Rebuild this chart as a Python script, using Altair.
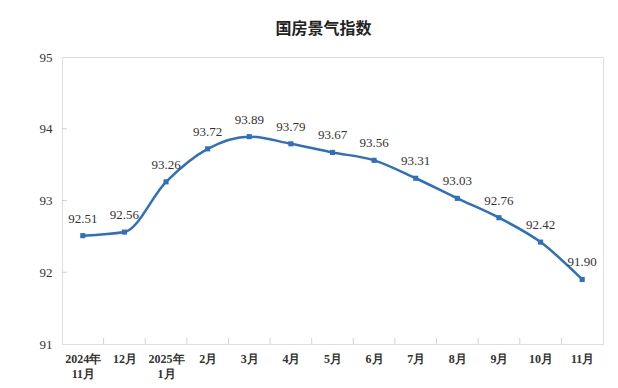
import altair as alt
import pandas as pd

labels = ["2024年|11月", "12月", "2025年|1月", "2月", "3月", "4月", "5月",
          "6月", "7月", "8月", "9月", "10月", "11月"]
values = [92.51, 92.56, 93.26, 93.72, 93.89, 93.79, 93.67,
          93.56, 93.31, 93.03, 92.76, 92.42, 91.90]
y_ticks = [91, 92, 93, 94, 95]

df = pd.DataFrame({"i": list(range(len(labels))), "v": values,
                   "t": [f"{v:.2f}" for v in values]})
bounds = pd.DataFrame({"b": [k + 0.5 for k in range(len(labels) - 1)]})
yt = pd.DataFrame({"y": y_ticks[1:-1]})

label_arr = "[" + ",".join(f"'{l}'" for l in labels) + "]"
xscale = alt.Scale(domain=[-0.5, len(labels) - 0.5], nice=False, zero=False)
yscale = alt.Scale(domain=[91, 95], nice=False, zero=False)

serif = "Liberation Serif"
color = "#2E6FC0"

x_enc = alt.X("i:Q", scale=xscale, title=None,
              axis=alt.Axis(values=list(range(len(labels))),
                            labelExpr=f"split({label_arr}[datum.value], '|')",
                            ticks=False, domain=False, grid=False,
                            labelFont=serif, labelFontSize=12, labelFontWeight="bold",
                            labelColor="#333333", labelPadding=9, labelLineHeight=15,
                            labelBaseline="top"))
y_enc = alt.Y("v:Q", scale=yscale, title=None,
              axis=alt.Axis(values=y_ticks, format="d", ticks=False, domain=False,
                            grid=False, labelFont=serif, labelFontSize=13,
                            labelColor="#333333", labelPadding=10))

base = alt.Chart(df)
line = base.mark_line(color=color, strokeWidth=2.5, interpolate="monotone").encode(x=x_enc, y=y_enc)
pts = base.mark_square(color=color, size=26, opacity=1).encode(x="i:Q", y="v:Q")
txt = base.mark_text(font=serif, fontSize=13, color="#333333", dy=-17).encode(
    x="i:Q", y="v:Q", text="t:N")

xt = alt.Chart(bounds).mark_tick(color="#bfbfbf", size=6, thickness=1, orient="vertical",
                                 yOffset=-3).encode(
    x=alt.X("b:Q", scale=xscale), y=alt.datum(91, scale=yscale))
ytk = alt.Chart(yt).mark_tick(color="#bfbfbf", size=5, thickness=1, orient="horizontal",
                              xOffset=2.5).encode(
    y=alt.Y("y:Q", scale=yscale), x=alt.datum(-0.5, scale=xscale))

chart = alt.layer(line, xt, ytk, pts, txt).properties(
    width=541, height=287,
    title=alt.TitleParams("国房景气指数", font="Noto Sans CJK SC", fontSize=16,
                          fontWeight="bold", color="#222222", anchor="middle",
                          offset=14, dx=-9),
    autosize=alt.AutoSizeParams(type="none"),
    padding={"left": 54, "top": 49, "right": 7, "bottom": 36},
).configure_view(stroke="#d4d4d4", strokeWidth=1).configure(background="white")

chart.save("out.html", embed_options={"renderer": "svg", "actions": False})
